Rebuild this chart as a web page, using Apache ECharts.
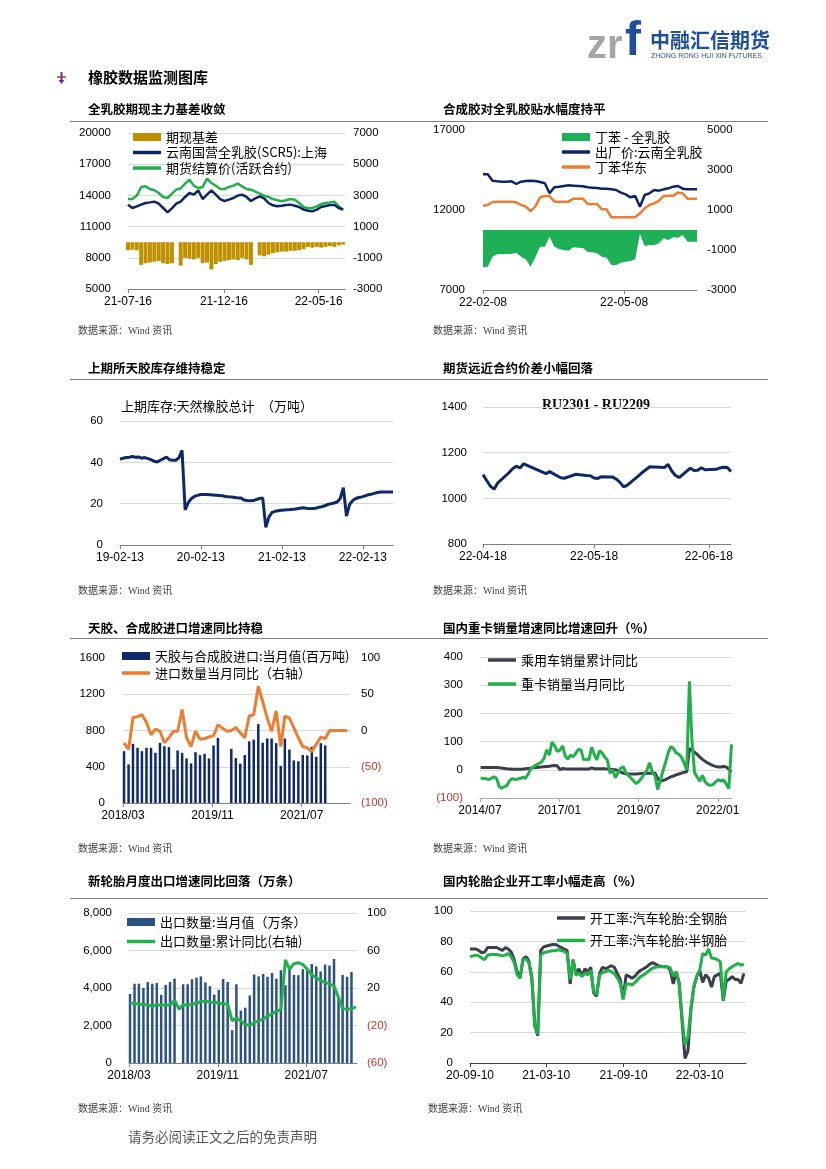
<!DOCTYPE html>
<html><head><meta charset="utf-8">
<script src="https://cdn.jsdelivr.net/npm/echarts@6/dist/echarts.min.js"></script>
<style>html,body{margin:0;padding:0;background:#fff}#c{width:826px;height:1169px}</style>
</head><body><div id="c"></div><script>
// ---------- helpers for dates ----------
function ts(s){const p=s.split('-').map(Number);return new Date(p[0],p[1]-1,p[2]).getTime();}
function days(y,m,d,n,step){const a=[];for(let i=0;i<n;i++)a.push(new Date(y,m-1,d+i*step).getTime());return a;}
function months(y,m,d,n){const a=[];for(let i=0;i<n;i++)a.push(new Date(y,m-1+i,d).getTime());return a;}
function zip(x,y){return x.map((t,i)=>[t,y[i]]);}
const p2=n=>(n<10?'0':'')+n;
const fmtD=v=>{const d=new Date(v);return String(d.getFullYear()).slice(2)+'-'+p2(d.getMonth()+1)+'-'+p2(d.getDate());};
const fmtM=v=>{const d=new Date(v);return d.getFullYear()+'/'+p2(d.getMonth()+1);};

// ---------- Chart 1: 全乳胶期现主力基差 (weekly) ----------
const c1Dates = days(2021,7,16,50,7);
const c1Labels = ['2021-07-16','2021-12-16','2022-05-16'];
const c1Basis = [-500,-480,-520,-1450,-1350,-1300,-1250,-1200,-1350,-1400,
  -1350,null,-1500,-1000,-1050,-1100,-1000,-1350,-1300,-1750,
  -1400,-1250,-1200,-1150,-1100,-1150,-1000,-1100,-1450,null,
  -850,-900,-800,-700,-650,-600,-600,-550,-550,-500,
  -450,-300,-350,-300,-350,-300,-250,-300,-200,-150];
const c1Spot = [13110,12790,12950,13110,13270,13330,13400,13200,12790,12370,
  12760,13200,13400,13850,14230,14070,14490,13650,14070,14490,
  14070,13650,13460,13590,13750,13980,14070,13850,13460,13720,
  13910,13720,13270,13050,12950,13010,13080,13110,13010,12890,
  12630,12530,12470,12630,12890,12980,13080,13080,12790,12630];
const c1Fut = [13650,13650,13980,14810,14870,14620,14490,14230,13850,13750,
  14170,14550,14680,15130,15510,14940,14710,14810,15610,15190,
  14940,14620,14620,14810,14940,15130,14870,14620,14550,14360,
  14170,13980,13850,13650,13530,13430,13530,13650,13590,13270,
  12890,12760,12790,12950,13170,13270,13330,13400,12950,12630];

// ---------- Chart 2: 合成胶对全乳胶贴水 (every 3 days) ----------
const c2Dates = days(2022,2,8,46,3);
const c2Labels = ['2022-02-08','2022-05-08'];
const c2Diff = [-1867,-1833,-1333,-1217,-1200,-1200,-1200,-1133,-1333,-1467,
  -1833,-1367,-833,-833,-333,-833,-950,-1000,-1033,-867,
  -883,-900,-1083,-1117,-1167,-1333,-1383,-1750,-1750,-1633,
  -1583,-1550,-1467,-200,-800,-750,-750,-667,-417,-500,
  -367,-383,-250,-583,-583,-583];
const c2Yunnan = [14229,14229,13833,13792,13771,13771,13792,13625,13771,13812,
  13833,13812,13750,13667,13042,13417,13458,13500,13542,13521,
  13500,13479,13417,13396,13375,13333,13333,13292,13250,13083,
  12979,12792,12875,12208,12938,13042,13250,13208,13292,13354,
  13458,13500,13333,13292,13292,13292];
const c2SBR = [12271,12313,12500,12521,12521,12521,12521,12479,12313,12208,
  11938,12208,12792,12875,12875,12521,12521,12521,12521,12708,
  12708,12708,12375,12375,12375,12042,12042,11542,11542,11542,
  11542,11542,11542,11792,12104,12313,12417,12583,12875,12896,
  12896,13083,13042,12708,12708,12708];

// ---------- Chart 3: 上期库存 (biweekly) ----------
const c3Dates = days(2019,2,13,89,14);
const c3Labels = ['2019-02-13','2020-02-13','2021-02-13','2022-02-13'];
const c3Inv = [41.5,42,42.3,42.5,42.8,42.5,42.6,42,42.3,41.8,
  41.3,40.5,40.2,41,41.8,42.5,41.2,41,41,42.2,
  45.8,17,20.5,22.5,23.5,24,24.4,24.4,24.4,24.3,
  24.2,24.1,24,23.8,23.5,23.3,23.2,23,22.8,22.8,
  21.8,21.5,21.4,21.5,22,22.5,22.8,8.5,13.5,15.8,
  16.3,16.6,16.8,16.9,17,17.2,17.3,17.5,17.8,18,
  17.8,17.6,17.7,17.8,18.2,18.5,19,19.6,20,20.3,
  20.8,22.5,27.8,14,19.5,21.5,22.5,23,23.3,23.8,
  24.3,24.6,25,25.4,25.6,25.7,25.7,25.6,25.6];

// ---------- Chart 4: RU2301 - RU2209 (trading days) ----------
const c4Dates = ['2022-04-18','2022-04-19','2022-04-20','2022-04-21','2022-04-22','2022-04-25','2022-04-26','2022-04-27','2022-04-28','2022-04-29',
  '2022-05-05','2022-05-06','2022-05-09','2022-05-10','2022-05-11','2022-05-12','2022-05-13','2022-05-16','2022-05-17','2022-05-18',
  '2022-05-19','2022-05-20','2022-05-23','2022-05-24','2022-05-25','2022-05-26','2022-05-27','2022-05-30','2022-05-31','2022-06-01',
  '2022-06-02','2022-06-06','2022-06-07','2022-06-08','2022-06-09','2022-06-10','2022-06-13','2022-06-14','2022-06-15','2022-06-16',
  '2022-06-17','2022-06-20','2022-06-21','2022-06-22','2022-06-23','2022-06-24'];
const c4Labels = ['2022-04-18','2022-05-18','2022-06-18'];
const c4Spread = [1104,1078,1053,1040,1068,1112,1130,1141,1133,1151,
  1108,1117,1090,1088,1094,1099,1105,1100,1099,1089,
  1087,1095,1093,1084,1070,1050,1058,1098,1113,1125,
  1138,1135,1148,1120,1100,1091,1132,1122,1123,1134,
  1125,1127,1133,1136,1135,1117];

// ---------- Chart 5: 天胶与合成胶进口 (monthly) ----------
const c5Dates = months(2018,3,8,51);
const mLabels = ['2018-03-01','2019-11-01','2021-07-01'];
const c5Import = [572,426,653,609,572,609,609,554,664,627,
  616,370,580,554,492,437,561,528,543,492,
  635,719,null,null,598,495,435,530,680,700,
  870,665,712,712,660,410,712,590,470,460,
  530,525,620,510,660,635,null,null,null,null,null];
const c5Yoy = [-17,-26,18,19,22,11,-6,2,-1,-17,
  -10,-1,-1,29,-10,-22,-1,-12,-11,-9,
  -7,8,3,-1,0,4,-3,-10,20,22,
  61,40,17,-1,27,-22,20,17,4,-10,
  -22,-24,-29,-19,-9,-11,0,0,0,0,0];

// ---------- Chart 6: 乘用车 / 重卡 (monthly) ----------
const c6Dates = months(2014,7,8,96);
const c6Labels = ['2014-07-01','2017-01-01','2019-07-01','2022-01-01'];
const c6Truck = [-29,-31,-31,-35,-30,-25,-30,-60,-65,-60,
  -55,-38,-32,-34,-33,-30,-26,-30,-15,5,
  11,17,22,28,40,70,52,98,85,65,
  70,85,50,38,52,46,58,72,70,35,
  38,35,80,55,35,68,60,45,35,-13,
  0,-28,-10,5,11,-12,-20,-30,-40,-49,
  -40,-28,-15,0,25,-10,-20,-70,-40,-5,
  25,60,82,76,60,55,45,25,-1,314,
  110,-10,-25,-40,-20,-43,-52,-55,-52,-42,
  -35,-40,-36,-50,-67,90];
const c6Car = [8,8,8,8,8,8,8,7,6,5,
  4,3,2,2,2,2,3,4,5,6,
  7,8,9,10,11,12,13,14,15,14,
  1,5,4,3,3,3,3,3,3,3,
  3,3,7,4,4,4,4,4,3,2,
  1,0,-3,-8,-12,-14,-15,-15,-15,-15,
  -14,-13,-13,-12,-12,-12,-11,-30,-40,-38,
  -35,-30,-25,-22,-18,-15,-12,-9,-7,75,
  70,62,55,45,37,30,24,19,15,12,
  10,10,12,10,2,-8];

// ---------- Chart 7: 新轮胎出口 (monthly) ----------
const c7Dates = months(2018,3,8,52);
const c7Export = [3680,4230,4230,4000,4320,4230,4270,3640,4160,4320,
  4500,null,4200,4200,4470,4550,4620,4300,4100,3650,
  3900,4480,4320,1750,4200,2800,2950,3600,4720,4620,
  4750,4600,4800,4500,4950,4150,5000,4700,4680,5000,
  4950,5280,5150,4880,5250,5200,5550,3500,4700,4600,
  4850,null];
const c7Cum = [4,3.5,3,2.5,2,0.5,2,2,2,2,
  7,-2.5,2,2,2.5,4,5.5,6,5,4.5,
  4,3,3,-15,-12,-15,-19,-20,-17,-15,
  -13,-10,-7.5,-5,-3,50,40,46,47,45,
  40,34,31,28,26,24.5,22,10,-2,-2.4,
  -2.4,0];

// ---------- Chart 8: 轮胎开工率 (weekly) ----------
const c8Dates = days(2020,9,10,94,7);
const c8Labels = ['2020-09-10','2021-03-10','2021-09-10','2022-03-10'];
const c8Steel = [75,75,75,74,72.5,73,76,76,76,76,
  75,74,76,75,73,68,60,56,68.5,70,
  67,56,25,18,74,76.4,77,77.5,78,78,
  77,76,75,74,52,68,58,62,57,62,
  60,63,46,44,59,63,62,63,64,63,
  59,55,42,58,57,55.7,57,59.5,61,62,
  63.3,65,66,65,64,63.5,63.3,63.3,61,52,
  60,53,28,3,8,35,50,57,61,53,
  58,56,50,57,58,59,41,54,55,56.8,
  55,55,52.4,59];
const c8Semi = [70,70.5,71,70.5,69,68,71,71.4,71.4,71.4,
  71,70.5,71,72,70,66,58,55.7,68,68.5,
  66,55,24,19,71,72.5,73,73.5,73.8,74,
  74.5,74,73.5,72,55,67.7,58,59,57,59,
  58,61,47,45,58,59.5,60,61,60,59,
  56,52.4,42,52,52,51.3,53,55,57,58,
  59.5,61,62.5,63,63.3,63.3,63.3,63.3,62.5,57,
  60,52,30,12,17,36,50,57,61,72,
  71,75,69,68.8,68,66.6,41,60,62,63.3,
  64.5,65.5,64.4,65];

// ---------- builders ----------
const AX_FONT='Liberation Sans', CJK='Noto Sans CJK SC';
const LINE_ICON='path://M0,0h0.01v0.01h-0.01z M0,2.2h30v3.6h-30z M29.99,7.99h0.01v0.01h-0.01z';
function xT(gi,min,max,labels,fmt,lc){
  const cv=labels.map(ts); lc=lc||'#7f7f7f';
  return {type:'value',gridIndex:gi,min:ts(min),max:ts(max),scale:true,
    axisLine:{show:true,onZero:false,lineStyle:{color:lc,width:1}},
    axisTick:{show:true,customValues:cv,length:4,lineStyle:{color:lc}},
    axisLabel:{customValues:cv,formatter:fmt,color:'#000',fontSize:12,fontFamily:AX_FONT,margin:7,hideOverlap:false},
    splitLine:{show:false}};
}
const plain=v=>String(v);
const neg=v=>v<0?'{r|('+(-v)+')}':String(v);
const comma=v=>v>=1000?Math.floor(v/1000)+','+String(v%1000).padStart(3,'0'):String(v);
function yV(gi,pos,min,max,interval,fmt,split,margin){
  return {type:'value',gridIndex:gi,position:pos,min,max,interval,
    axisLine:{show:false},axisTick:{show:false},
    axisLabel:{formatter:fmt,color:'#000',fontSize:11.5,fontFamily:AX_FONT,margin:margin,
      rich:{r:{color:'#c0392b',fontSize:11.5,fontFamily:AX_FONT}}},
    splitLine:{show:split,lineStyle:{color:'#d9d9d9',width:1}}};
}
function ln(name,xi,yi,data,color,w){
  return {type:'line',name,xAxisIndex:xi,yAxisIndex:yi,data,symbol:'none',showSymbol:false,
    lineStyle:{color,width:w},itemStyle:{color},animation:false};
}
function br(name,xi,yi,data,color,bw){
  return {type:'bar',name,xAxisIndex:xi,yAxisIndex:yi,data,barWidth:bw,itemStyle:{color},animation:false};
}
const LI=name=>({name,icon:LINE_ICON});
const RI=name=>({name,icon:'rect'});
function lg(left,top,gap,data){
  return {left,top,orient:'vertical',itemGap:gap,itemWidth:28,itemHeight:8,padding:0,selectedMode:false,
    textStyle:{fontSize:13,color:'#000',fontFamily:CJK,lineHeight:15},data};
}
const T=(x,y,text,o)=>({type:'text',x,y,silent:true,style:Object.assign({text,fill:'#000',fontSize:13,fontFamily:CJK,textAlign:'left',textVerticalAlign:'middle'},o||{})});
const L=(x1,y1,x2,y2,c,w)=>({type:'line',silent:true,shape:{x1,y1,x2,y2},style:{stroke:c,lineWidth:w||1}});
const SRC='数据来源：Wind 资讯';
const srcStyle={fontSize:10,fill:'#404040',fontFamily:'Liberation Serif, Noto Sans CJK SC'};
const bold={fontSize:12.5,fontWeight:'bold'};

const option={
  backgroundColor:'#fff',
  animation:false,
  grid:[
    {left:128,top:133,width:217,height:156},
    {left:483,top:130,width:214,height:160},
    {left:120,top:421,width:273,height:124},
    {left:483,top:407,width:248,height:137},
    {left:123,top:658,width:227,height:145},
    {left:480,top:657,width:252,height:141},
    {left:129,top:913,width:228,height:150},
    {left:470,top:911,width:276,height:152}
  ],
  xAxis:[
    xT(0,'2021-07-16','2022-06-27',c1Labels,fmtD),
    xT(1,'2022-02-08','2022-06-23',c2Labels,fmtD),
    xT(2,'2019-02-13','2022-06-29',c3Labels,fmtD),
    xT(3,'2022-04-18','2022-06-24',c4Labels,fmtD),
    xT(4,'2018-03-01','2022-05-26',mLabels,fmtM),
    xT(5,'2014-07-01','2022-06-14',c6Labels,fmtM,'#a6a6a6'),
    xT(6,'2018-03-01','2022-06-15',mLabels,fmtM),
    xT(7,'2020-09-10','2022-06-28',c8Labels,fmtD,'#404040')
  ],
  yAxis:[
    yV(0,'left',5000,20000,3000,plain,true,17),
    yV(0,'right',-3000,7000,2000,plain,false,8),
    yV(1,'left',7000,17000,5000,plain,false,18),
    yV(1,'right',-3000,5000,2000,plain,false,10),
    yV(2,'left',0,60,20,plain,true,17),
    yV(3,'left',800,1400,200,plain,true,16),
    yV(4,'left',0,1600,400,plain,true,18),
    yV(4,'right',-100,100,50,neg,false,11),
    yV(5,'left',-100,400,100,neg,true,17),
    yV(6,'left',0,8000,2000,comma,true,17),
    yV(6,'right',-60,100,40,neg,false,10),
    yV(7,'left',0,100,20,plain,true,17)
  ],
  legend:[
    lg(133,129.5,0.5,[RI('期现基差'),LI('云南国营全乳胶(SCR5):上海'),LI('期货结算价(活跃合约)')]),
    lg(562,129.5,0,[RI('丁苯 - 全乳胶'),LI('出厂价:云南全乳胶'),LI('丁苯华东')]),
    lg(122,648.5,2,[RI('天胶与合成胶进口:当月值(百万吨)'),LI('进口数量当月同比（右轴）')]),
    lg(488,652.5,9,[LI('乘用车销量累计同比'),LI('重卡销量当月同比')]),
    lg(127,914.5,4.5,[RI('出口数量:当月值（万条）'),LI('出口数量:累计同比(右轴)')]),
    lg(557,910.5,7.5,[LI('开工率:汽车轮胎:全钢胎'),LI('开工率:汽车轮胎:半钢胎')])
  ],
  series:[
    br('期现基差',0,1,zip(c1Dates,c1Basis),'#bf9000',4),
    ln('期货结算价(活跃合约)',0,0,zip(c1Dates,c1Fut),'#22b04b',2.5),
    ln('云南国营全乳胶(SCR5):上海',0,0,zip(c1Dates,c1Spot),'#0d2567',2.5),

    Object.assign(ln('丁苯 - 全乳胶',1,3,zip(c2Dates,c2Diff),'#1db056',0),{areaStyle:{color:'#1db056',opacity:1}}),
    ln('出厂价:云南全乳胶',1,2,zip(c2Dates,c2Yunnan),'#0d2567',2.5),
    ln('丁苯华东',1,2,zip(c2Dates,c2SBR),'#ed7d31',2.5),

    ln('上期库存:天然橡胶总计',2,4,zip(c3Dates,c3Inv),'#0e2a66',3),

    ln('RU2301 - RU2209',3,5,zip(c4Dates.map(ts),c4Spread),'#0e2a66',3),

    br('天胶与合成胶进口:当月值(百万吨)',4,6,zip(c5Dates,c5Import),'#10296b',2.5),
    ln('进口数量当月同比（右轴）',4,7,zip(c5Dates,c5Yoy),'#ed7d31',3),

    ln('乘用车销量累计同比',5,8,zip(c6Dates,c6Car),'#3a3f4c',3),
    ln('重卡销量当月同比',5,8,zip(c6Dates,c6Truck),'#22b04b',3),

    br('出口数量:当月值（万条）',6,9,zip(c7Dates,c7Export),'#2c5282',2.5),
    ln('出口数量:累计同比(右轴)',6,10,zip(c7Dates,c7Cum),'#22b04b',3),

    ln('开工率:汽车轮胎:全钢胎',7,11,zip(c8Dates,c8Steel),'#3a3f4c',3),
    ln('开工率:汽车轮胎:半钢胎',7,11,zip(c8Dates,c8Semi),'#22b04b',3)
  ],
  graphic:{elements:[
    T(587,47,'zr',{fontSize:40,fontFamily:'Liberation Sans',fontWeight:'bold',fill:'#a6a6a6'}),
    T(625,42,'f',{fontSize:48,fontFamily:'Liberation Sans',fontWeight:'bold',fill:'#1f4e9a'}),
    T(650,40,'中融汇信期货',{fontSize:20,fontWeight:'bold',fill:'#1f4e9a'}),
    T(651,56.5,'ZHONG RONG HUI XIN FUTURES',{fontSize:7,fontFamily:'Liberation Sans',fill:'#2f4f8f'}),
    L(57,77,66,77,'#e07020',2), L(61.5,72,61.5,81,'#6a2ca0',2),
    {type:'polygon',silent:true,shape:{points:[[58.5,80],[64.5,80],[61.5,84]]},style:{fill:'#6a2ca0'}},
    T(88,77,'橡胶数据监测图库',{fontSize:15,fontWeight:'bold'}),
    T(88,109,'全乳胶期现主力基差收敛',bold), T(443,109,'合成胶对全乳胶贴水幅度持平',bold),
    L(70,121.5,768,121.5,'#808080',1),
    T(88,368,'上期所天胶库存维持稳定',bold), T(443,368,'期货远近合约价差小幅回落',bold),
    L(70,379.5,768,379.5,'#808080',1),
    T(88,628,'天胶、合成胶进口增速同比持稳',bold), T(443,628,'国内重卡销量增速同比增速回升（%）',bold),
    L(70,638.5,768,638.5,'#808080',1),
    T(88,881,'新轮胎月度出口增速同比回落（万条）',bold), T(443,881,'国内轮胎企业开工率小幅走高（%）',bold),
    L(70,898.5,768,898.5,'#808080',1),
    T(121,406,'上期库存:天然橡胶总计　（万吨）',{fontSize:13}),
    T(596,405,'RU2301 - RU2209',{fontSize:14,fontWeight:'bold',fontFamily:'Liberation Serif',textAlign:'center'}),
    T(78,331,SRC,srcStyle), T(433,331,SRC,srcStyle),
    T(78,591,SRC,srcStyle), T(433,591,SRC,srcStyle),
    T(78,849,SRC,srcStyle), T(433,849,SRC,srcStyle),
    T(78,1109,SRC,srcStyle), T(428,1109,SRC,srcStyle),
    T(128,1137,'请务必阅读正文之后的免责声明',{fontSize:13.5,fill:'#555'})
  ]}
};
const chart=echarts.init(document.getElementById('c'),null,{renderer:'canvas'});
chart.setOption(option);
</script></body></html>
